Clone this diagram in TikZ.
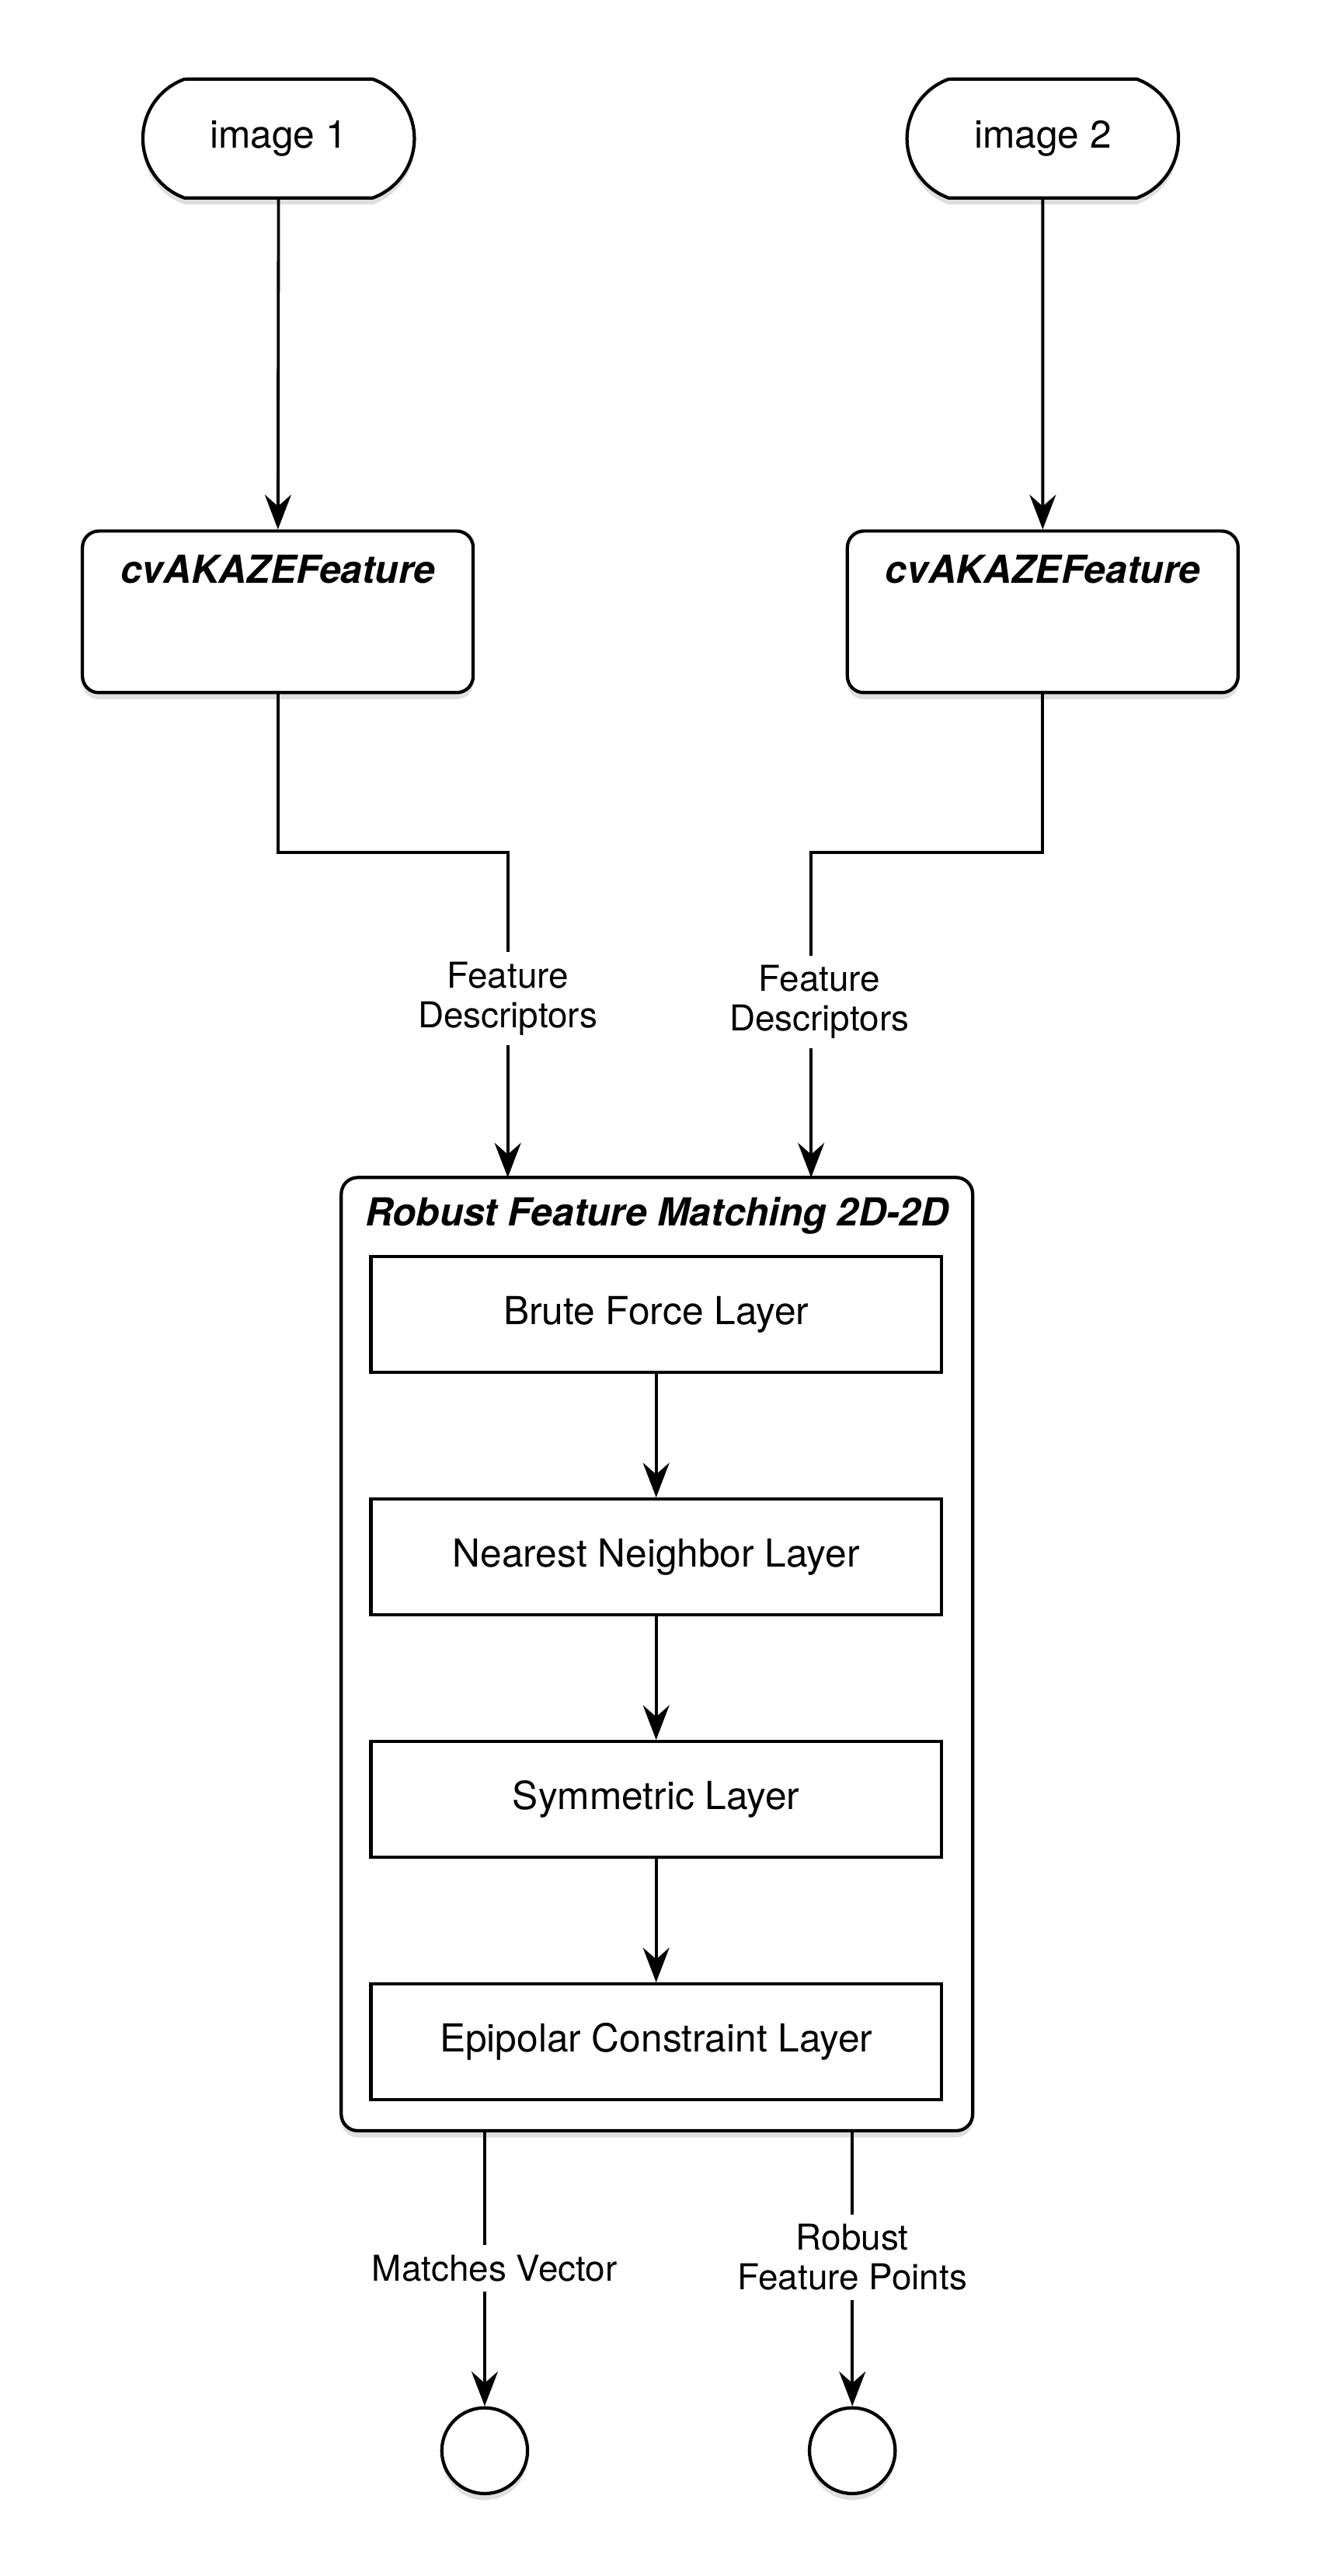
\documentclass[tikz,border=0pt]{standalone}
\usepackage{fontspec}
\setmainfont{TeX Gyre Heros}
\usetikzlibrary{arrows.meta,shapes.misc,shadows}
\newcommand{\boxfont}{\fontsize{11.7}{14}\selectfont}
\newcommand{\lblfont}{\fontsize{10.8}{12}\selectfont}
\newcommand{\headfont}{\fontsize{11.7}{14}\selectfont\bfseries\itshape}
\tikzset{
  shade box/.style={drop shadow={shadow xshift=0pt,shadow yshift=-2pt,opacity=0.25}},
  source/.style={rounded rectangle, rounded rectangle arc length=140, draw, line width=1pt,
    fill=white, minimum width=89pt, minimum height=36pt, font=\boxfont, shade box},
  boxhead/.style={anchor=center, yshift=-12pt, font=\headfont},
  feature/.style={rectangle, rounded corners=5pt, draw, line width=1pt, fill=white,
    minimum width=118.5pt, minimum height=49pt, shade box},
  group/.style={rectangle, rounded corners=5pt, draw, line width=1pt, fill=white,
    minimum width=191.5pt, minimum height=289pt, shade box},
  layer/.style={rectangle, draw, line width=1pt, fill=white,
    minimum width=173pt, minimum height=35pt, font=\boxfont},
  sink/.style={circle, draw, line width=1pt, fill=white, minimum size=26pt,
    inner sep=0pt, shade box},
  flow/.style={draw, line width=0.9pt, -{Stealth[length=10.5pt,width=8pt,inset=3.5pt]}},
  lbl/.style={fill=white, font=\lblfont, align=center, inner sep=3pt}
}
\begin{document}
\begin{tikzpicture}[x=0.5pt,y=-0.5pt]
  \useasboundingbox (0,0) rectangle (800,1562);
  % inputs
  \node[source] (img1) at (169,84) {image 1};
  \node[source] (img2) at (632.5,84) {image 2};
  \node[feature, label={[boxhead]north:cvAKAZEFeature}] (feat1) at (168.5,371) {};
  \node[feature, label={[boxhead]north:cvAKAZEFeature}] (feat2) at (632.5,371) {};
  \draw[flow] (img1) -- (feat1);
  \draw[flow] (img2) -- (feat2);
  % matching block
  \node[group, label={[boxhead]north:Robust Feature Matching 2D-2D}] (match) at (398.5,1003) {};
  \node[layer] (brute) at (398,797) {Brute Force Layer};
  \node[layer] (nn) at (398,944) {Nearest Neighbor Layer};
  \node[layer] (sym) at (398,1091) {Symmetric Layer};
  \node[layer] (epi) at (398,1238) {Epipolar Constraint Layer};
  \foreach \a/\b in {brute/nn, nn/sym, sym/epi}
    \draw[flow] (\a) -- (\b);
  \coordinate (in1) at (308,714);
  \coordinate (in2) at (492,714);
  \draw[flow] (feat1.south) -- ++(0,96) -| node[lbl, pos=0.725] {Feature\\Descriptors} (in1);
  \draw[flow] (feat2.south) -- ++(0,96) -| node[lbl, pos=0.73, xshift=2.5pt] {Feature\\Descriptors} (in2);
  % outputs
  \coordinate (out1) at (294,1292);
  \coordinate (out2) at (517,1292);
  \node[sink] (res1) at (294,1486) {};
  \node[sink] (res2) at (517,1486) {};
  \draw[flow] (out1) -- node[lbl, xshift=3pt] {Matches Vector} (res1);
  \draw[flow] (out2) -- node[lbl, pos=0.46] {Robust\\Feature Points} (res2);
\end{tikzpicture}
\end{document}
